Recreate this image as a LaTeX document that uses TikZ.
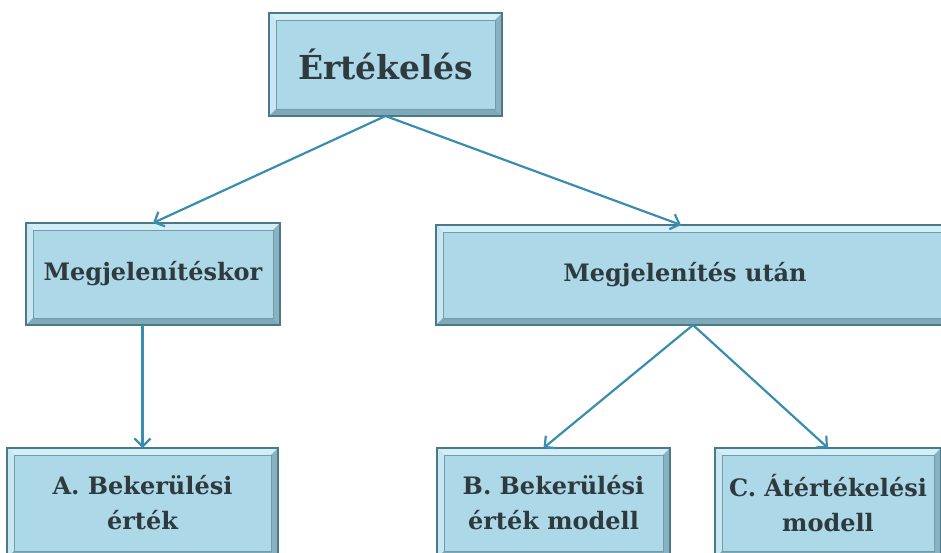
\documentclass[tikz,border=0pt]{standalone}
\usepackage{fontspec}
\setmainfont{DejaVu Serif}
\usetikzlibrary{arrows.meta}
\definecolor{boxfill}{HTML}{ADD8E8}
\definecolor{boxedge}{HTML}{4A7A89}
\definecolor{bevlight}{HTML}{D3EEF6}
\definecolor{bevdark}{HTML}{7FA9B7}
\definecolor{innerline}{HTML}{6E9DAC}
\definecolor{arrowcol}{HTML}{3A8DAE}
\definecolor{txt}{HTML}{2F3A3F}
\begin{document}
\begin{tikzpicture}[x=1pt,y=-1pt,
  box/.style={rectangle, fill=boxfill, draw=boxedge, line width=1.8pt, inner sep=0pt, outer sep=0pt,
    text=txt, font=\bfseries\fontsize{24}{35}\selectfont, align=center},
  conn/.style={draw=arrowcol, line width=2.2pt, -{Straight Barb[length=8pt,width=16pt]}}
]
\useasboundingbox (0,0) rectangle (941,553);
\clip (0,0) rectangle (941,553);
\node[box, minimum width=233pt, minimum height=103pt, font=\bfseries\fontsize{33}{38}\selectfont] (top) at (385.5,64.5) {Értékelés};
\node[box, minimum width=254pt, minimum height=102pt] (left) at (153,274) {Megjelenítéskor};
\node[box, minimum width=512pt, minimum height=100pt] (right) at (692,275) {\hspace*{-14pt}Megjelenítés után};
\node[box, minimum width=271pt, minimum height=110pt] (a) at (142.5,503) {A. Bekerülési\\érték};
\node[box, minimum width=233pt, minimum height=110pt] (b) at (553.5,503) {B. Bekerülési\\érték modell};
\node[box, minimum width=226pt, minimum height=110pt] (c) at (828,503) {C. Átértékelési\\modell};
\foreach \n in {top,left,right,a,b,c} {
  \fill[bevlight] (\n.north west) -- (\n.north east) -- ([shift={(-7,7)}]\n.north east) -- ([shift={(7,7)}]\n.north west) -- cycle;
  \fill[bevlight!70!boxfill] (\n.north west) -- ([shift={(7,7)}]\n.north west) -- ([shift={(7,-7)}]\n.south west) -- (\n.south west) -- cycle;
  \fill[bevdark] (\n.south west) -- (\n.south east) -- ([shift={(-7,-7)}]\n.south east) -- ([shift={(7,-7)}]\n.south west) -- cycle;
  \fill[bevdark!80!boxfill] (\n.north east) -- ([shift={(-7,7)}]\n.north east) -- ([shift={(-7,-7)}]\n.south east) -- (\n.south east) -- cycle;
  \draw[innerline, line width=0.8pt] ([shift={(7,7)}]\n.north west) rectangle ([shift={(-7,-7)}]\n.south east);
  \draw[boxedge, line width=1.8pt] (\n.north west) rectangle (\n.south east);
}
\draw[conn] (top.south) -- (left.north);
\draw[conn] (top.south) -- ([xshift=-11pt]right.north);
\draw[conn] (a.north |- left.south) -- (a.north);
\draw[conn] ([xshift=1pt]right.south) -- ([xshift=-10pt]b.north);
\draw[conn] ([xshift=1pt]right.south) -- (c.north);
\end{tikzpicture}
\end{document}
